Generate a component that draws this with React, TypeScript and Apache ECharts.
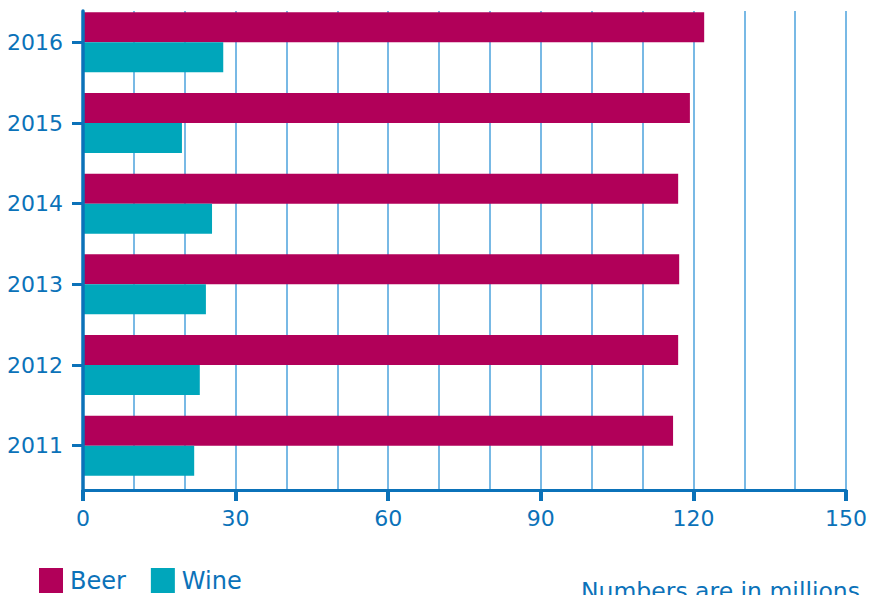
import React, { useEffect, useRef } from "react";
import * as echarts from "echarts";

const years = ["2011", "2012", "2013", "2014", "2015", "2016"];
const beer = [115.7, 116.7, 116.9, 116.7, 119.0, 121.8];
const wine = [21.8, 22.9, 24.1, 25.3, 19.4, 27.5];
const seriesNames = ["Beer", "Wine"];
const note = "Numbers are in millions";

const BLUE = "#0b72b9";
const GRID = "#4ba2dc";
const BEER = "#b10059";
const WINE = "#00a6bb";
const FONT = "DejaVu Sans";

export default function App() {
  const ref = useRef<HTMLDivElement>(null);
  useEffect(() => {
    if (!ref.current) return;
    const chart = echarts.init(ref.current, undefined, { renderer: "svg" });
    chart.setOption({
      animation: false,
      textStyle: { fontFamily: FONT },
      legend: {
        data: seriesNames,
        left: 34,
        top: 563,
        icon: "rect",
        itemWidth: 24,
        itemHeight: 25,
        itemGap: 25,
        textStyle: { color: BLUE, fontSize: 24, fontFamily: FONT, padding: [0, 0, 0, 2] },
      },
      grid: [
        { left: 83, right: 22, top: 2, bottom: 109 },
        { left: 83, right: 22, top: 11, bottom: 105 },
      ],
      xAxis: [
        { gridIndex: 0, type: "value", min: 0, max: 150, show: false },
        {
          gridIndex: 1,
          type: "value",
          min: 0,
          max: 150,
          interval: 30,
          axisLine: { show: true, lineStyle: { color: BLUE, width: 3 } },
          axisTick: { show: true, length: 11, lineStyle: { color: BLUE, width: 4 } },
          axisLabel: { color: BLUE, fontSize: 22, fontFamily: FONT, margin: 17 },
          splitLine: { show: true, lineStyle: { color: GRID, width: 1.5 } },
          minorTick: { show: false, splitNumber: 3 },
          minorSplitLine: { show: true, lineStyle: { color: GRID, width: 1.5 } },
        },
      ],
      yAxis: [
        {
          gridIndex: 0,
          type: "category",
          data: years,
          axisLine: { show: false },
          axisTick: { show: true, alignWithLabel: true, length: 11, lineStyle: { color: BLUE, width: 3 } },
          axisLabel: { color: BLUE, fontSize: 22, fontFamily: FONT, margin: 20 },
          splitLine: { show: false },
        },
        {
          gridIndex: 1,
          type: "value",
          min: 0,
          max: 1,
          z: 10,
          axisLine: { show: true, lineStyle: { color: BLUE, width: 3.5 } },
          axisTick: { show: false },
          axisLabel: { show: false },
          splitLine: { show: false },
        },
      ],
      series: [
        {
          name: "Beer",
          type: "bar",
          xAxisIndex: 0,
          yAxisIndex: 0,
          data: beer,
          barWidth: 30,
          barGap: "0%",
          itemStyle: { color: BEER },
          z: 5,
        },
        {
          name: "Wine",
          type: "bar",
          xAxisIndex: 0,
          yAxisIndex: 0,
          data: wine,
          barWidth: 30,
          barGap: "0%",
          itemStyle: { color: WINE },
          z: 5,
        },
      ],
      graphic: [
        {
          type: "text",
          left: 581,
          top: 579,
          style: { text: note, fill: BLUE, fontSize: 23.5, fontFamily: FONT },
        },
      ],
    });
    return () => chart.dispose();
  }, []);
  return <div ref={ref} style={{ width: 870, height: 595, position: "absolute", left: 0, top: 0 }} />;
}
